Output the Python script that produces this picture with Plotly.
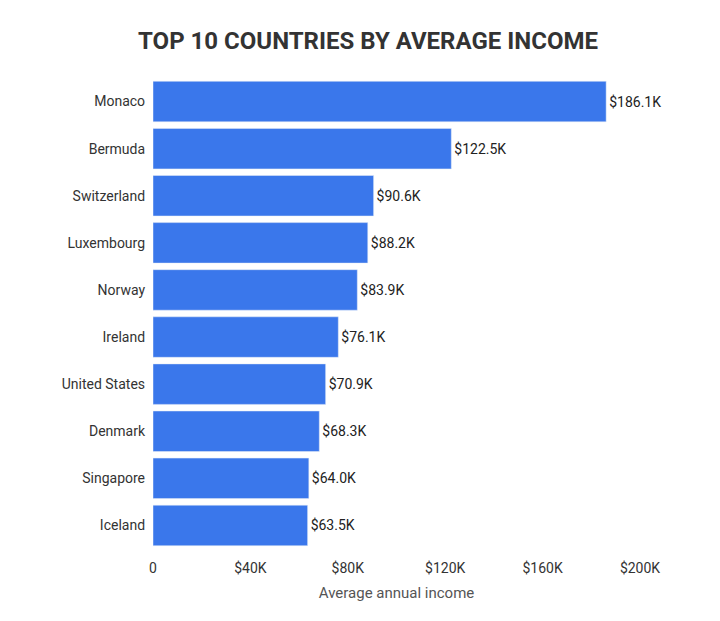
import plotly.graph_objects as go

countries = ["Monaco","Bermuda","Switzerland","Luxembourg","Norway","Ireland","United States","Denmark","Singapore","Iceland"]
incomes = [186100,122500,90600,88200,83900,76100,70900,68300,64000,63500]
labels = ["$186.1K","$122.5K","$90.6K","$88.2K","$83.9K","$76.1K","$70.9K","$68.3K","$64.0K","$63.5K"]
tick_vals = [0,40000,80000,120000,160000,200000]
tick_text = ["0","$40K","$80K","$120K","$160K","$200K"]

fig = go.Figure(go.Bar(
    x=incomes, y=countries, orientation="h", marker_color="#3a77eb",
    text=labels, textposition="outside", cliponaxis=False,
    textfont=dict(family="Roboto", size=14, color="#222"), width=0.86))
fig.update_layout(
    width=720, height=621, plot_bgcolor="white", paper_bgcolor="white",
    margin=dict(l=145, r=88, t=70, b=80),
    title=dict(text="<b>TOP 10 COUNTRIES BY AVERAGE INCOME</b>", x=0.5, xanchor="center",
               y=0.947, yanchor="middle",
               font=dict(family="Roboto", size=24, color="#333")),
    xaxis=dict(range=[0,200000], tickvals=tick_vals, ticktext=tick_text, showgrid=False,
               zeroline=False, ticks="outside", ticklen=6, tickcolor="white",
               tickfont=dict(family="Roboto", size=14, color="#333"),
               title=dict(text="Average annual income", standoff=12,
                          font=dict(family="Roboto", size=15, color="#555"))),
    yaxis=dict(autorange="reversed", tickfont=dict(family="Roboto", size=14, color="#333"),
               ticksuffix="  ", showgrid=False),
    showlegend=False,
)
fig.write_html("out.html")
